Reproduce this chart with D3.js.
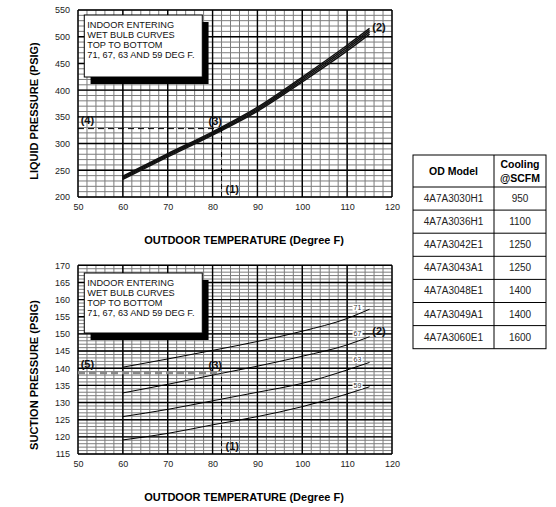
<!DOCTYPE html>
<html>
<head>
<meta charset="utf-8">
<script src="https://cdnjs.cloudflare.com/ajax/libs/d3/7.8.5/d3.min.js"></script>
<style>
    body { margin: 0; background: #fff; }
    svg text { font-family: "Liberation Sans", Arial, sans-serif; }
</style>
</head>
<body>
<div id="chart"></div>
<script>

// outdoor temperatures the curves were read at
const temps = [60, 70, 80, 90, 100, 110, 115];
const wetBulbs = [71, 67, 63, 59];

// liquid pressure (psig), one array per indoor wet bulb
const liquid71 = [239, 281, 322, 368, 424.5, 484, 515.5];
const liquid67 = [237, 279, 320, 365.5, 421.5, 480.5, 512];
const liquid63 = [235, 277, 318, 363, 418.5, 477, 508.5];
const liquid59 = [233, 275, 316, 360.5, 415.5, 473.5, 505];

// suction pressure (psig)
const suction71 = [140.3, 142.7, 145.2, 147.8, 150.8, 154.5, 157.2];
const suction67 = [132.8, 135.3, 138.0, 140.6, 143.5, 146.8, 149.2];
const suction63 = [125.9, 128.0, 130.5, 133.0, 135.6, 139.5, 141.7];
const suction59 = [119.1, 121.0, 123.5, 125.9, 128.8, 132.5, 134.6];

const xTicks = [50, 60, 70, 80, 90, 100, 110, 120];
const liquidTicks = [200, 250, 300, 350, 400, 450, 500, 550];
const suctionTicks = [115, 120, 125, 130, 135, 140, 145, 150, 155, 160, 165, 170];

// example reading: 82 F outdoor
const checkTemp = 82;
const checkLiquid = 328;
const checkSuction = 138.7;

const boxLines = ["INDOOR ENTERING", "WET BULB CURVES", "TOP TO BOTTOM", "71, 67, 63 AND 59 DEG F."];

const odModels = ["4A7A3030H1", "4A7A3036H1", "4A7A3042E1", "4A7A3043A1", "4A7A3048E1", "4A7A3049A1", "4A7A3060E1"];
const coolingCfm = [950, 1100, 1250, 1250, 1400, 1400, 1600];

let svg = d3.select("#chart").append("svg")
    .attr("width", 556)
    .attr("height", 507);

class PressureChart {
    constructor(cfg) {
        this.cfg = cfg;
        this.initVis();
    }

    initVis() {
        let vis = this;
        let c = vis.cfg;

        vis.g = svg.append("g");

        vis.x = d3.scaleLinear().domain([50, 120]).range([c.left, c.right]);
        vis.y = d3.scaleLinear().domain(c.yDomain).range([c.bottom, c.top]);

        // minor grid
        let minorX = d3.range(50, 120.01, 2);
        let minorY = d3.range(c.yDomain[0], c.yDomain[1] + 0.01, c.yMinor);

        vis.g.selectAll(".minor-x").data(minorX).enter().append("line")
            .attr("x1", d => vis.x(d)).attr("x2", d => vis.x(d))
            .attr("y1", c.top).attr("y2", c.bottom)
            .attr("stroke", "#7c7c7c").attr("stroke-width", 1);
        vis.g.selectAll(".minor-y").data(minorY).enter().append("line")
            .attr("y1", d => vis.y(d)).attr("y2", d => vis.y(d))
            .attr("x1", c.left).attr("x2", c.right)
            .attr("stroke", "#7c7c7c").attr("stroke-width", 1);

        // major grid
        vis.g.selectAll(".major-x").data(xTicks).enter().append("line")
            .attr("x1", d => vis.x(d)).attr("x2", d => vis.x(d))
            .attr("y1", c.top).attr("y2", c.bottom)
            .attr("stroke", "#000").attr("stroke-width", 1.4);
        vis.g.selectAll(".major-y").data(c.yTicks).enter().append("line")
            .attr("y1", d => vis.y(d)).attr("y2", d => vis.y(d))
            .attr("x1", c.left).attr("x2", c.right)
            .attr("stroke", "#000").attr("stroke-width", 1.4);

        // axes (labels only)
        let xAxis = d3.axisBottom(vis.x).tickValues(xTicks).tickSize(0).tickPadding(7);
        let yAxis = d3.axisLeft(vis.y).tickValues(c.yTicks).tickSize(0).tickPadding(8);

        vis.g.append("g").attr("transform", "translate(0," + c.bottom + ")").call(xAxis)
            .call(g => g.select(".domain").remove())
            .selectAll("text").attr("font-size", 9).attr("fill", "#222")
            .attr("font-family", "Liberation Sans, Arial, sans-serif");
        vis.g.append("g").attr("transform", "translate(" + c.left + ",0)").call(yAxis)
            .call(g => g.select(".domain").remove())
            .selectAll("text").attr("font-size", 9).attr("fill", "#222")
            .attr("font-family", "Liberation Sans, Arial, sans-serif");

        // axis titles
        vis.g.append("text")
            .attr("transform", "translate(" + c.yTitleX + "," + c.yTitleY + ") rotate(-90)")
            .attr("text-anchor", "middle")
            .attr("font-size", 11).attr("font-weight", "bold")
            .text(c.yTitle);
        vis.g.append("text")
            .attr("x", 244).attr("y", c.xTitleY)
            .attr("text-anchor", "middle")
            .attr("font-size", 11).attr("font-weight", "bold")
            .text("OUTDOOR TEMPERATURE (Degree F)");

        // note box with shadow
        vis.g.append("rect")
            .attr("x", vis.x(52.8)).attr("y", c.boxTop + 7)
            .attr("width", 118).attr("height", c.boxH)
            .attr("fill", "#000");
        vis.g.append("rect")
            .attr("x", vis.x(51.4)).attr("y", c.boxTop)
            .attr("width", 118).attr("height", c.boxH)
            .attr("fill", "#fff").attr("stroke", "#000").attr("stroke-width", 1);
        vis.g.selectAll(".box-line").data(boxLines).enter().append("text")
            .attr("x", vis.x(51.4) + 3)
            .attr("y", (d, i) => c.boxTop + 12.5 + i * 10.3)
            .attr("font-size", 9.2).attr("fill", "#111")
            .text(d => d);

        // wet bulb curves
        let line = d3.line()
            .x((d, i) => vis.x(temps[i]))
            .y(d => vis.y(d))
            .curve(d3.curveMonotoneX);

        vis.g.selectAll(".wb-curve").data(c.series).enter().append("path")
            .attr("d", d => line(d))
            .attr("fill", "none")
            .attr("stroke", c.curveColor)
            .attr("stroke-width", c.curveWidth);

        // dashed reading lines
        let y3 = vis.y(c.checkValue);
        vis.g.append("line")
            .attr("x1", vis.x(checkTemp)).attr("x2", vis.x(checkTemp))
            .attr("y1", c.bottom).attr("y2", y3)
            .attr("stroke", "#000").attr("stroke-width", 1)
            .attr("stroke-dasharray", "5,3");
        vis.g.append("line")
            .attr("x1", vis.x(50)).attr("x2", vis.x(checkTemp))
            .attr("y1", y3).attr("y2", y3)
            .attr("stroke", c.hColor).attr("stroke-width", c.hWidth)
            .attr("stroke-dasharray", c.hDash);

        // point labels
        let tag = (x, y, t) => vis.g.append("text")
            .attr("x", x).attr("y", y)
            .attr("font-size", 11).attr("font-weight", "bold").attr("fill", "#111")
            .text(t);
        tag(vis.x(checkTemp) + 4, c.bottom - 4, "(1)");
        tag(vis.x(115.6), c.tag2Y, "(2)");
        tag(vis.x(checkTemp) - 13, y3 - 4, "(3)");
        tag(vis.x(50.6), y3 - 5, c.leftTag);

        // small wet bulb labels
        if (c.curveLabels) {
            c.series.forEach(function (s, i) {
                let yl = vis.y(c.labelY[i]);
                vis.g.append("rect")
                    .attr("x", vis.x(111.2)).attr("y", yl - 6)
                    .attr("width", 10).attr("height", 7)
                    .attr("fill", "#fff");
                vis.g.append("text")
                    .attr("x", vis.x(112.3)).attr("y", yl)
                    .attr("text-anchor", "middle")
                    .attr("font-size", 7).attr("fill", "#333")
                    .text(wetBulbs[i]);
            });
        }
    }
}

let liquidChart = new PressureChart({
    left: 78, right: 392, top: 10, bottom: 197,
    yDomain: [200, 550], yTicks: liquidTicks, yMinor: 10,
    yTitle: "LIQUID PRESSURE (PSIG)", yTitleX: 38, yTitleY: 111,
    xTitleY: 244,
    boxTop: 15, boxH: 62,
    series: [liquid71, liquid67, liquid63, liquid59],
    curveWidth: 1.5, curveColor: "#111",
    checkValue: checkLiquid,
    hColor: "#000", hWidth: 1, hDash: "6,4",
    leftTag: "(4)", tag2Y: 31,
    curveLabels: false
});

let suctionChart = new PressureChart({
    left: 78, right: 392, top: 265.3, bottom: 454,
    yDomain: [115, 170], yTicks: suctionTicks, yMinor: 1,
    yTitle: "SUCTION PRESSURE (PSIG)", yTitleX: 38, yTitleY: 375,
    xTitleY: 501,
    boxTop: 273, boxH: 60,
    series: [suction71, suction67, suction63, suction59],
    curveWidth: 1, curveColor: "#000",
    checkValue: checkSuction,
    hColor: "#888", hWidth: 3, hDash: "7,4",
    leftTag: "(5)", tag2Y: 335,
    curveLabels: true,
    labelY: [157, 149.3, 141.8, 134.2]
});

// model table
let tbl = svg.append("g");
let tLeft = 413, tRight = 546, tSplit = 494, tTop = 155, headH = 32, rowH = 23.1;

tbl.append("rect")
    .attr("x", tLeft).attr("y", tTop)
    .attr("width", tRight - tLeft).attr("height", headH + rowH * odModels.length)
    .attr("fill", "#fff").attr("stroke", "#000").attr("stroke-width", 1);
tbl.append("line")
    .attr("x1", tSplit).attr("x2", tSplit)
    .attr("y1", tTop).attr("y2", tTop + headH + rowH * odModels.length)
    .attr("stroke", "#000");
tbl.selectAll(".row-line").data(odModels).enter().append("line")
    .attr("x1", tLeft).attr("x2", tRight)
    .attr("y1", (d, i) => tTop + headH + i * rowH)
    .attr("y2", (d, i) => tTop + headH + i * rowH)
    .attr("stroke", "#000");

tbl.append("text").attr("x", (tLeft + tSplit) / 2).attr("y", tTop + 20)
    .attr("text-anchor", "middle").attr("font-size", 10.5).attr("font-weight", "bold")
    .text("OD Model");
tbl.append("text").attr("x", (tSplit + tRight) / 2).attr("y", tTop + 13)
    .attr("text-anchor", "middle").attr("font-size", 10.5).attr("font-weight", "bold")
    .text("Cooling");
tbl.append("text").attr("x", (tSplit + tRight) / 2).attr("y", tTop + 27)
    .attr("text-anchor", "middle").attr("font-size", 10.5).attr("font-weight", "bold")
    .text("@SCFM");

tbl.selectAll(".model").data(odModels).enter().append("text")
    .attr("x", (tLeft + tSplit) / 2)
    .attr("y", (d, i) => tTop + headH + i * rowH + 15)
    .attr("text-anchor", "middle").attr("font-size", 10).attr("fill", "#222")
    .text(d => d);
tbl.selectAll(".cfm").data(coolingCfm).enter().append("text")
    .attr("x", (tSplit + tRight) / 2)
    .attr("y", (d, i) => tTop + headH + i * rowH + 15)
    .attr("text-anchor", "middle").attr("font-size", 10).attr("fill", "#222")
    .text(d => d);

</script>
</body>
</html>
